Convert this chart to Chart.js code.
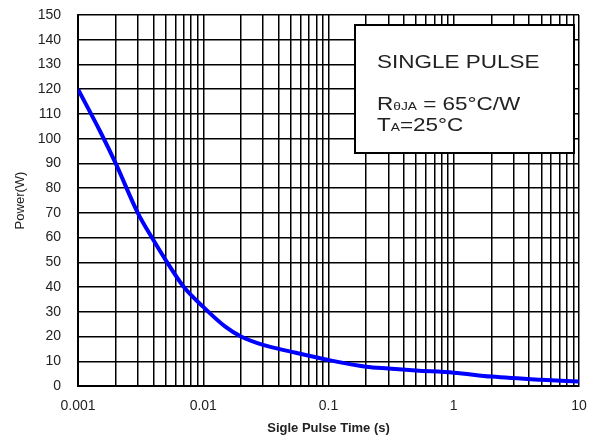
<!DOCTYPE html>
<html>
<head>
<meta charset="utf-8">
<script src="https://cdn.jsdelivr.net/npm/chart.js@4.4.1/dist/chart.umd.min.js"></script>
<style>
  html, body { margin: 0; padding: 0; background: #fff; }
</style>
</head>
<body>
<canvas id="pulse" width="602" height="436"></canvas>
<script>
// values
const pulseTimes = [0.001, 0.0015, 0.002, 0.003, 0.004, 0.005, 0.007, 0.01, 0.015, 0.02, 0.03, 0.05, 0.1, 0.2, 0.3, 0.5, 1, 2, 5, 10];
const powerW = [120, 103, 90, 70, 59, 51, 40, 32, 24, 20, 16.6, 13.9, 10.5, 7.8, 7.1, 6.3, 5.4, 3.8, 2.5, 1.8];
const decadeStarts = [0.001, 0.01, 0.1, 1];
const xLabels = ['0.001', '0.01', '0.1', '1', '10'];
const noteLines = ['SINGLE PULSE', 'R', 'T'];

const fontFamily = '"Liberation Sans", Arial, sans-serif';
const textColor = '#222';

// 1..9 per decade, the grid of a log paper
const gridTicks = [];
decadeStarts.forEach((d) => {
  for (let m = 1; m < 10; m++) gridTicks.push(+(d * m).toPrecision(3));
});
gridTicks.push(10);

function xTickLabel(v) {
  const e = Math.log10(v);
  if (Math.abs(e - Math.round(e)) > 1e-6) return '';
  return xLabels[Math.round(e) + 3];
}

const noteBox = {
  id: 'noteBox',
  afterDraw(chart) {
    const { ctx, chartArea } = chart;
    const left = chartArea.right - 224;
    const top = chartArea.top + 10;
    const w = 219;
    const h = 128;
    ctx.save();
    ctx.fillStyle = '#fff';
    ctx.fillRect(left, top, w, h);
    ctx.strokeStyle = '#000';
    ctx.lineWidth = 2;
    ctx.strokeRect(left, top, w, h);

    const sx = 1.25;
    const big = '18px ' + fontFamily;
    const small = '11px ' + fontFamily;
    ctx.fillStyle = textColor;
    ctx.textBaseline = 'alphabetic';

    // draws a run of text pieces, horizontally stretched like the scan
    function run(x, y, pieces) {
      ctx.save();
      ctx.translate(x, y);
      ctx.scale(sx, 1);
      let cx = 0;
      pieces.forEach(([txt, font]) => {
        ctx.font = font;
        ctx.fillText(txt, cx, 0);
        cx += ctx.measureText(txt).width;
      });
      ctx.restore();
    }

    const tx = left + 22;
    run(tx, top + 43, [[noteLines[0], big]]);
    run(tx, top + 85, [[noteLines[1], big], ['\u03B8JA', small], [' = 65\u00B0C/W', big]]);
    run(tx, top + 106, [[noteLines[2], big], ['A', small], ['=25\u00B0C', big]]);
    ctx.restore();
  },
};

new Chart(document.getElementById('pulse'), {
  type: 'line',
  data: {
    datasets: [{
      data: pulseTimes.map((t, i) => ({ x: t, y: powerW[i] })),
      borderColor: '#0000ff',
      borderWidth: 4,
      pointRadius: 0,
      fill: false,
      cubicInterpolationMode: 'monotone',
    }],
  },
  plugins: [noteBox],
  options: {
    responsive: false,
    animation: false,
    devicePixelRatio: 1,
    layout: { padding: { left: 0, right: 23, top: 15, bottom: 0 } },
    plugins: {
      legend: { display: false },
      tooltip: { enabled: false },
    },
    scales: {
      x: {
        type: 'logarithmic',
        min: 0.001,
        max: 10,
        afterBuildTicks: (s) => { s.ticks = gridTicks.map((v) => ({ value: v })); },
        afterFit: (s) => {
          s.height = 50;
          s.paddingLeft = 0;
          s.paddingRight = 0;
        },
        ticks: {
          autoSkip: false,
          maxRotation: 0,
          padding: 12,
          color: textColor,
          font: { family: fontFamily, size: 14 },
          callback: (v) => xTickLabel(v),
        },
        grid: { color: '#000', lineWidth: 1.5, drawTicks: false },
        border: { color: '#000', width: 2 },
        title: {
          display: true,
          text: 'Sigle Pulse Time (s)',
          color: textColor,
          font: { family: fontFamily, size: 13, weight: 'bold' },
          padding: { top: 2, bottom: 0 },
        },
      },
      y: {
        min: 0,
        max: 150,
        afterFit: (s) => {
          s.width = 78;
          s.paddingTop = 0;
          s.paddingBottom = 0;
        },
        ticks: {
          stepSize: 10,
          padding: 17,
          color: textColor,
          font: { family: fontFamily, size: 14 },
        },
        grid: { color: '#000', lineWidth: 1.5, drawTicks: false },
        border: { color: '#000', width: 2 },
        title: {
          display: true,
          text: 'Power(W)',
          color: textColor,
          font: { family: fontFamily, size: 13 },
          padding: { top: 13, bottom: 0 },
        },
      },
    },
  },
});
</script>
</body>
</html>
